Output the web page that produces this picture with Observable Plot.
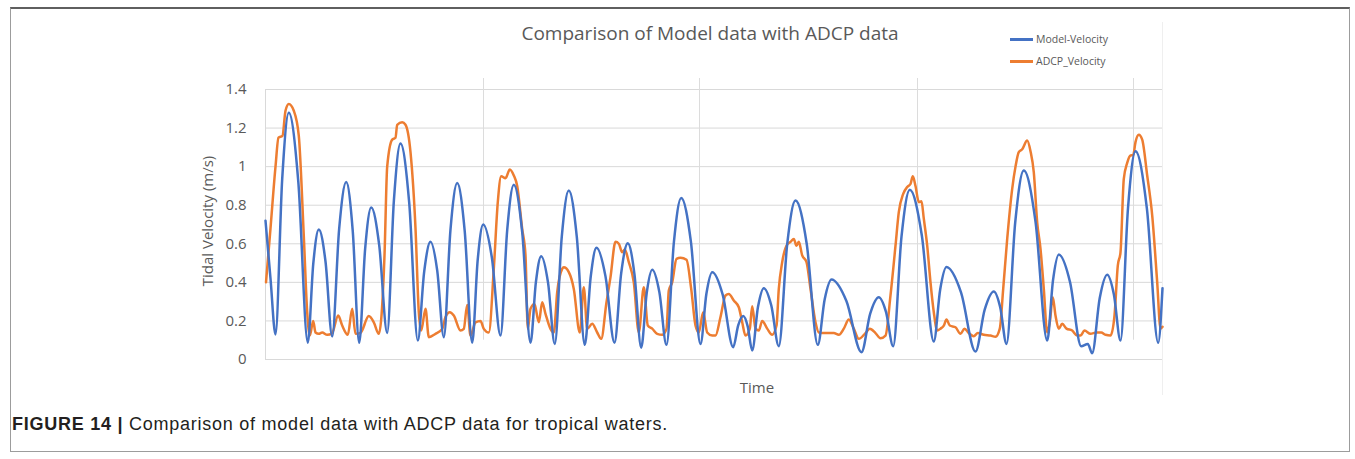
<!DOCTYPE html>
<html>
<head>
<meta charset="utf-8">
<script src="https://cdn.jsdelivr.net/npm/d3@7"></script>
<script src="https://cdn.jsdelivr.net/npm/@observablehq/plot@0.6"></script>
<style>
  html, body { margin: 0; padding: 0; background: #fff; }
  body { width: 1355px; height: 459px; position: relative; overflow: hidden; font-family: "Open Sans", sans-serif; }
  #frame { position: absolute; left: 10px; top: 7px; width: 1340px; height: 445px; box-sizing: border-box;
           border: 1px solid #9c9c9c; border-top: 2px solid #5f5f5f; }
  #chartEdge { position: absolute; left: 1162px; top: 22px; width: 1px; height: 373px; background: #efefef; }
  #title { position: absolute; left: 410px; width: 600px; top: 21px; text-align: center; font-size: 19px; line-height: 24px; color: #595959; }
  .leg { position: absolute; left: 1010px; height: 14px; }
  .leg .sw { position: absolute; left: 0; top: 6px; width: 23px; height: 2.5px; }
  .leg .lb { position: absolute; left: 26px; top: 0; font-size: 10.5px; line-height: 14px; color: #595959; white-space: nowrap; }
  #ylabel { position: absolute; left: 207px; top: 221px; transform: translate(-50%, -50%) rotate(-90deg); font-size: 15px; color: #595959; white-space: nowrap; }
  #xlabel { position: absolute; left: 757px; top: 387px; transform: translate(-50%, -50%); font-size: 15px; color: #595959; }
  #plot { position: absolute; left: 0; top: 70px; }
  #caption { position: absolute; left: 12px; top: 414px; font-family: "Liberation Sans", Arial, sans-serif; font-size: 18px; letter-spacing: 0.75px; line-height: 20px; color: #231f20; white-space: nowrap; }
  #caption b { font-weight: bold; }
</style>
</head>
<body>
<div id="frame"></div>
<div id="chartEdge"></div>
<div id="title"></div>
<div id="legend"></div>
<div id="ylabel"></div>
<div id="xlabel"></div>
<div id="plot"></div>
<div id="caption"></div>
<script>
// ---- Data (time in time-step units, velocity in m/s) ----
const titleText = "Comparison of Model data with ADCP data";
const yAxisLabel = "Tidal Velocity (m/s)";
const xAxisLabel = "Time";
const captionLead = "FIGURE 14 |";
const captionText = " Comparison of model data with ADCP data for tropical waters.";
const seriesNames = ["Model-Velocity", "ADCP_Velocity"];
const seriesColors = ["#4472c4", "#ed7d31"];

const yTickValues = [0, 0.2, 0.4, 0.6, 0.8, 1, 1.2, 1.4];
const yTickLabels = ["0", "0.2", "0.4", "0.6", "0.8", "1", "1.2", "1.4"];
const timeDomain = [0, 897];
const dividerTimes = [218, 434, 652, 868];

const modelTime = [0, 5, 10, 16.7, 23.3, 32.8, 42.3, 47.8, 53.3, 60, 66.7, 73.7, 80.7, 87.2, 93.7, 99.7,
  105.7, 113.7, 121.7, 128.4, 135, 143.7, 152.3, 158.7, 165, 171.7, 178.3, 185, 191.7, 199.2, 206.7, 212.2,
  217.7, 226.4, 235, 241.7, 248.3, 256.7, 265, 270.4, 275.7, 282.5, 289.3, 296.3, 303.3, 311.3, 319.3, 325.2,
  331, 340, 349, 355.7, 362.3, 369, 375.7, 381.2, 386.7, 393.9, 401, 408.4, 415.7, 425.4, 435, 440.9,
  446.7, 457.2, 467.7, 472.7, 477.7, 482.2, 486.7, 492.5, 498.3, 505.8, 513.3, 521.7, 530, 541.2, 552.3, 559.2,
  566, 581, 596, 604.7, 613.3, 620.5, 627.7, 636, 644.3, 656.3, 668.3, 674.7, 681, 695.5, 710, 719.2,
  728.3, 734.7, 741, 749.7, 758.3, 770, 781.7, 787.5, 793.3, 804.5, 815.7, 822.3, 826.7, 834.2, 841.7, 848.4,
  855, 862.5, 870, 881.4, 892.7, 897];
const modelVelocity = [0.72, 0.42, 0.13, 0.935, 1.28, 0.922, 0.087, 0.498, 0.674, 0.508, 0.12, 0.68, 0.92, 0.67, 0.087, 0.578,
  0.788, 0.593, 0.138, 0.825, 1.12, 0.813, 0.098, 0.456, 0.61, 0.462, 0.116, 0.675, 0.915, 0.667, 0.087, 0.516,
  0.70, 0.527, 0.124, 0.671, 0.906, 0.66, 0.087, 0.401, 0.536, 0.40, 0.081, 0.638, 0.876, 0.636, 0.076, 0.428,
  0.579, 0.431, 0.087, 0.448, 0.603, 0.44, 0.061, 0.344, 0.465, 0.348, 0.076, 0.609, 0.838, 0.611, 0.081, 0.341,
  0.453, 0.336, 0.064, 0.177, 0.225, 0.172, 0.047, 0.273, 0.37, 0.28, 0.069, 0.598, 0.824, 0.6, 0.076, 0.313,
  0.415, 0.302, 0.038, 0.238, 0.323, 0.247, 0.069, 0.637, 0.88, 0.644, 0.093, 0.363, 0.479, 0.348, 0.041, 0.259,
  0.353, 0.271, 0.081, 0.71, 0.98, 0.715, 0.098, 0.41, 0.544, 0.402, 0.069, 0.081, 0.033, 0.318, 0.44, 0.337,
  0.098, 0.785, 1.08, 0.782, 0.087, 0.37];

const adcpTime = [0.5, 5, 10, 13, 17, 20, 23.3, 28.3, 33.3, 38.3, 41.7, 44.3, 47.7, 50, 53.3, 56.7, 61.7, 66.7,
  72.7, 76.7, 82.3, 86.7, 90, 95, 103.3, 108.3, 113.3, 119, 121.7, 126.7, 130, 131.7, 136.7, 140, 145, 150,
  153.3, 155.7, 160, 163.3, 170, 176.7, 180, 184.3, 188.3, 195, 198.3, 201.7, 205, 210, 215, 218.3, 223.3,
  228.3, 232.3, 235.7, 240, 244.3, 248.3, 251.7, 256.7, 260, 262.3, 265, 269, 273.3, 276.7, 280, 285, 288.3,
  291.7, 296.7, 298.3, 303.3, 308.3, 314.3, 318.3, 321.7, 326.7, 331.7, 335.7, 341, 345, 350, 353.3, 356.7,
  359.3, 363.3, 368.3, 373.3, 378.3, 382.3, 386.7, 391.7, 396.7, 401, 403.3, 406.7, 411, 415, 421, 425.7,
  430, 433.3, 437.7, 441.7, 446.7, 450, 455, 460, 463.3, 468.3, 473.3, 476.7, 480, 484.3, 486.7, 490, 493.3,
  496.7, 501.7, 506.7, 511, 513.3, 516.7, 521, 525, 528.3, 531, 533.3, 536.7, 541, 545, 550, 553.3, 560,
  568.3, 573.3, 578.3, 583.3, 588.3, 593.3, 600, 604.3, 610, 615, 620, 625, 630, 633.3, 637.7, 641.7, 645,
  647.3, 650, 653.3, 656, 658.3, 661.7, 665, 668.3, 671.7, 675, 678.3, 681, 684.3, 690, 695, 699, 703.3,
  708.3, 712.3, 718.3, 725, 730, 734.3, 737.7, 741.7, 746.7, 750, 753.3, 756.7, 761.7, 765, 768.3, 771.7,
  775, 778.3, 781.7, 784.3, 787.3, 790, 793.3, 796.7, 801, 806.7, 811.7, 815, 819, 825, 831, 835.7, 840,
  845, 849, 852.3, 855, 858.3, 861.7, 865, 867.7, 870, 873.3, 876.7, 881.7, 886.7, 891.7, 895, 897];
const adcpVelocity = [0.40, 0.68, 1.0, 1.15, 1.16, 1.29, 1.325, 1.29, 1.16, 0.64, 0.245, 0.124, 0.20, 0.14, 0.133, 0.14, 0.128, 0.138,
  0.228, 0.176, 0.128, 0.263, 0.133, 0.138, 0.225, 0.193, 0.133, 0.54, 1.0, 1.14, 1.15, 1.217, 1.23, 1.217, 1.075, 0.68,
  0.245, 0.15, 0.263, 0.116, 0.133, 0.159, 0.22, 0.245, 0.228, 0.15, 0.159, 0.283, 0.124, 0.193, 0.20, 0.159, 0.14,
  0.47, 0.816, 0.95, 0.94, 0.985, 0.954, 0.90, 0.677, 0.54, 0.159, 0.263, 0.288, 0.193, 0.297, 0.237, 0.159, 0.14,
  0.349, 0.47, 0.478, 0.453, 0.366, 0.14, 0.375, 0.159, 0.185, 0.14, 0.107, 0.297, 0.427, 0.61, 0.60, 0.556,
  0.57, 0.505, 0.40, 0.14, 0.375, 0.176, 0.16, 0.133, 0.128, 0.159, 0.358, 0.40, 0.522, 0.528, 0.517, 0.366,
  0.176, 0.14, 0.245, 0.14, 0.124, 0.124, 0.22, 0.332, 0.34, 0.306, 0.271, 0.193, 0.124, 0.16, 0.276, 0.16, 0.15,
  0.20, 0.16, 0.128, 0.176, 0.366, 0.505, 0.59, 0.61, 0.625, 0.59, 0.61, 0.54, 0.505, 0.366, 0.193, 0.14, 0.137,
  0.137, 0.128, 0.16, 0.207, 0.16, 0.107, 0.137, 0.159, 0.137, 0.11, 0.124, 0.332, 0.59, 0.764, 0.859, 0.894, 0.91,
  0.95, 0.90, 0.816, 0.82, 0.73, 0.59, 0.40, 0.245, 0.15, 0.16, 0.176, 0.207, 0.176, 0.167, 0.133, 0.16, 0.137,
  0.121, 0.137, 0.128, 0.124, 0.118, 0.16, 0.366, 0.625, 0.885, 1.0, 1.075, 1.09, 1.135, 1.08, 0.97, 0.71,
  0.574, 0.366, 0.14, 0.193, 0.323, 0.228, 0.159, 0.185, 0.16, 0.15, 0.124, 0.124, 0.15, 0.133, 0.14, 0.14, 0.128,
  0.124, 0.228, 0.487, 0.556, 0.936, 1.02, 1.058, 1.06, 1.127, 1.165, 1.14, 0.954, 0.747, 0.40, 0.16, 0.17];

// ---- Build tables ----
const model = modelTime.map((t, i) => ({t, v: modelVelocity[i]}));
const adcp = adcpTime.map((t, i) => ({t, v: adcpVelocity[i]}));

// ---- Texts ----
document.getElementById("title").textContent = titleText;
document.getElementById("ylabel").textContent = yAxisLabel;
document.getElementById("xlabel").textContent = xAxisLabel;
const cap = document.getElementById("caption");
const b = document.createElement("b"); b.textContent = captionLead;
cap.appendChild(b); cap.appendChild(document.createTextNode(captionText));

const legend = document.getElementById("legend");
seriesNames.forEach((name, i) => {
  const item = document.createElement("div");
  item.className = "leg";
  item.style.top = (32 + i * 22) + "px";
  const sw = document.createElement("div"); sw.className = "sw"; sw.style.background = seriesColors[i];
  const lb = document.createElement("div"); lb.className = "lb"; lb.textContent = name;
  item.appendChild(sw); item.appendChild(lb);
  legend.appendChild(item);
});

// ---- Chart ----
const chart = Plot.plot({
  width: 1200,
  height: 330,
  marginLeft: 265,
  marginRight: 38,
  marginTop: 19,
  marginBottom: 41,
  style: {fontFamily: "Open Sans", fontSize: "15px", color: "#595959", background: "transparent", overflow: "visible"},
  x: {domain: timeDomain, axis: null},
  y: {domain: [0, 1.4]},
  marks: [
    Plot.ruleY(yTickValues, {stroke: "#d9d9d9", strokeWidth: 1}),
    Plot.ruleX([timeDomain[0]], {y1: 0, y2: 1.4, stroke: "#d9d9d9"}),
    Plot.ruleX(dividerTimes, {y1: 0.1, y2: 1.457, stroke: "#dcdcdc"}),
    Plot.axisY(yTickValues, {
      tickSize: 0, tickPadding: 19, label: null, fontSize: 15, fill: "#595959",
      tickFormat: d => yTickLabels[yTickValues.indexOf(d)]
    }),
    Plot.line(adcp, {x: "t", y: "v", stroke: seriesColors[1], strokeWidth: 2.5, curve: "monotone-x"}),
    Plot.line(model, {x: "t", y: "v", stroke: seriesColors[0], strokeWidth: 2.5, curve: "monotone-x"})
  ]
});
document.getElementById("plot").appendChild(chart);
</script>
</body>
</html>
